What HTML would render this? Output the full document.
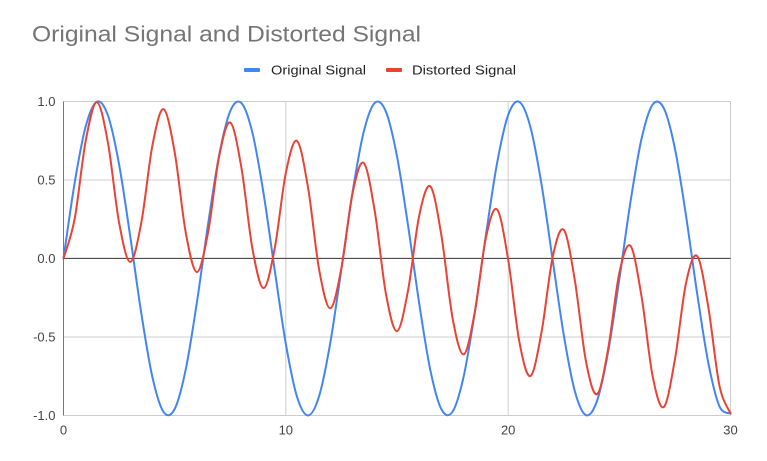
<!DOCTYPE html>
<html>
<head>
<meta charset="utf-8">
<style>
html,body{margin:0;padding:0;background:#fff;overflow:hidden;}
svg{display:block;font-family:"Liberation Sans",Arial,sans-serif;}
</style>
</head>
<body>
<svg id="chart" width="767" height="461" viewBox="0 0 767 461" xmlns="http://www.w3.org/2000/svg">
  <rect x="0" y="0" width="767" height="461" fill="#ffffff"/>
  <!-- Title -->
  <text x="32" y="41.5" font-size="22" fill="#757575" textLength="389" lengthAdjust="spacingAndGlyphs">Original Signal and Distorted Signal</text>
  <!-- Legend -->
  <rect x="244" y="68" width="16" height="4" rx="1" fill="#4285F4"/>
  <text x="271" y="74.5" font-size="13" fill="#222222" textLength="95" lengthAdjust="spacingAndGlyphs">Original Signal</text>
  <rect x="386" y="68" width="16" height="4" rx="1" fill="#EA4335"/>
  <text x="412" y="74.5" font-size="13" fill="#222222" textLength="104" lengthAdjust="spacingAndGlyphs">Distorted Signal</text>

  <!-- Gridlines -->
  <g stroke="#cccccc" stroke-width="1" fill="none">
    <line x1="63.5" y1="101.5" x2="730.5" y2="101.5"/>
    <line x1="63.5" y1="180" x2="730.5" y2="180"/>
    <line x1="63.5" y1="337" x2="730.5" y2="337"/>
    <line x1="63.5" y1="415.5" x2="730.5" y2="415.5"/>
    <line x1="285.8" y1="101.5" x2="285.8" y2="415.5"/>
    <line x1="508.2" y1="101.5" x2="508.2" y2="415.5"/>
    <line x1="730.5" y1="101.5" x2="730.5" y2="415.5"/>
  </g>
  <!-- Baselines -->
  <line x1="63.5" y1="101.5" x2="63.5" y2="415.5" stroke="#777777" stroke-width="1"/>
  <line x1="63.5" y1="258.4" x2="730.5" y2="258.4" stroke="#333333" stroke-width="1"/>

  <!-- Y labels -->
  <g font-size="13" fill="#444444" text-anchor="end">
    <text x="55.5" y="106">1.0</text>
    <text x="55.5" y="184.5">0.5</text>
    <text x="55.5" y="263">0.0</text>
    <text x="55.5" y="341.5">-0.5</text>
    <text x="55.5" y="420">-1.0</text>
  </g>
  <!-- X labels -->
  <g font-size="13" fill="#444444" text-anchor="middle">
    <text x="63.5" y="434.5">0</text>
    <text x="285.8" y="434.5">10</text>
    <text x="508.2" y="434.5">20</text>
    <text x="730.5" y="434.5">30</text>
  </g>

  <path id="blue" d="" fill="none" stroke="#4285F4" stroke-width="2" stroke-linejoin="round" stroke-linecap="round"/>
  <path id="red" d="" fill="none" stroke="#EA4335" stroke-width="2" stroke-linejoin="round" stroke-linecap="round"/>
</svg>
<script>
(function(){
  function X(x){return 63.5 + x*22.2333;}
  function Y(v){return 258.4 - v*157.05;}
  function build(f){
    var pts=[];
    for(var i=0;i<=60;i++){var x=i*0.5;pts.push([X(x),Y(f(x))]);}
    var d="M"+pts[0][0].toFixed(2)+","+pts[0][1].toFixed(2);
    var n=pts.length;
    for(var i=0;i<n-1;i++){
      var p0=pts[Math.max(i-1,0)],p1=pts[i],p2=pts[i+1],p3=pts[Math.min(i+2,n-1)];
      var t=1/6;
      var c1x=p1[0]+(p2[0]-p0[0])*t, c1y=p1[1]+(p2[1]-p0[1])*t;
      var c2x=p2[0]-(p3[0]-p1[0])*t, c2y=p2[1]-(p3[1]-p1[1])*t;
      d+="C"+c1x.toFixed(2)+","+c1y.toFixed(2)+" "+c2x.toFixed(2)+","+c2y.toFixed(2)+" "+p2[0].toFixed(2)+","+p2[1].toFixed(2);
    }
    return d;
  }
  document.getElementById("blue").setAttribute("d",build(function(x){return Math.sin(x);}));
  document.getElementById("red").setAttribute("d",build(function(x){return Math.sin(x)*Math.sin(1.1*x);}));
})();
</script>
</body>
</html>
